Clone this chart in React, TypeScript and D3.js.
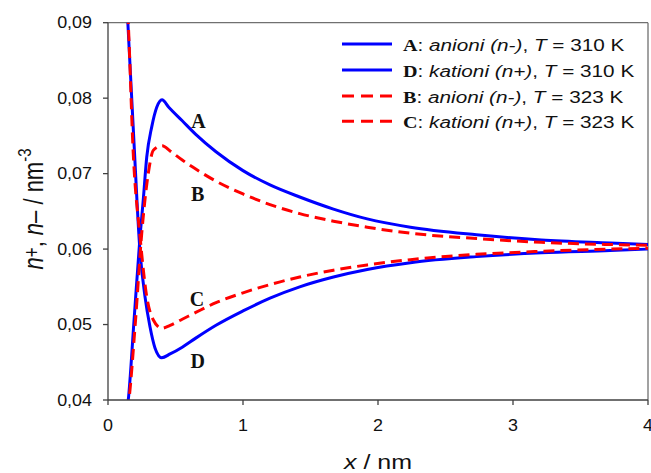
import React from "react";
import * as d3 from "d3";

// ---- data ----
const xTicks = [0, 1, 2, 3, 4];
const yTicks = [0.04, 0.05, 0.06, 0.07, 0.08, 0.09];

// A: anioni (n-), T = 310 K
const xA = [0.140, 0.150, 0.193, 0.237, 0.261, 0.287, 0.324, 0.361, 0.400, 0.450, 0.550, 0.650, 0.800, 1.000, 1.200, 1.420, 1.670, 1.920, 2.240, 2.730, 3.210, 3.720, 4.000];
const yA = [0.0386, 0.0400, 0.0506, 0.0616, 0.0665, 0.0722, 0.0762, 0.0788, 0.0798, 0.0788, 0.0770, 0.0752, 0.0729, 0.0704, 0.0685, 0.0669, 0.0653, 0.0640, 0.0629, 0.0619, 0.0612, 0.0608, 0.0606];

// D: kationi (n+), T = 310 K
const xD = [0.137, 0.147, 0.190, 0.237, 0.274, 0.311, 0.348, 0.398, 0.460, 0.550, 0.650, 0.800, 1.000, 1.200, 1.420, 1.670, 1.920, 2.240, 2.730, 3.210, 3.720, 4.000];
const yD = [0.0935, 0.0900, 0.0750, 0.0597, 0.0537, 0.0497, 0.0469, 0.0456, 0.0461, 0.0470, 0.0482, 0.0499, 0.0518, 0.0535, 0.0550, 0.0563, 0.0573, 0.0582, 0.0590, 0.0595, 0.0598, 0.0600];

// B: anioni (n-), T = 323 K
const xB = [0.145, 0.155, 0.204, 0.250, 0.299, 0.336, 0.402, 0.460, 0.550, 0.650, 0.800, 1.000, 1.200, 1.420, 1.670, 1.920, 2.240, 2.730, 3.210, 3.720, 4.000];
const yB = [0.0386, 0.0400, 0.0506, 0.0621, 0.0701, 0.0731, 0.0737, 0.0730, 0.0718, 0.0706, 0.0690, 0.0673, 0.0659, 0.0647, 0.0637, 0.0629, 0.0621, 0.0614, 0.0609, 0.0606, 0.0605];

// C: kationi (n+), T = 323 K
const xC = [0.140, 0.150, 0.187, 0.237, 0.287, 0.336, 0.398, 0.460, 0.550, 0.650, 0.800, 1.000, 1.200, 1.420, 1.670, 1.920, 2.240, 2.730, 3.210, 3.720, 4.000];
const yC = [0.0935, 0.0900, 0.0727, 0.0617, 0.0537, 0.0506, 0.0495, 0.0499, 0.0507, 0.0516, 0.0529, 0.0542, 0.0553, 0.0563, 0.0572, 0.0579, 0.0586, 0.0593, 0.0597, 0.0600, 0.0601];

const legendLetters = ["A", "D", "B", "C"];
const legendIons = ["anioni (n-)", "kationi (n+)", "anioni (n-)", "kationi (n+)"];
const legendTemps = ["310 K", "310 K", "323 K", "323 K"];

// curve label anchors in data units (position of letter)
const labelLetters = ["A", "B", "C", "D"];
const labelX = [0.67, 0.665, 0.66, 0.665];
const labelY = [0.0761, 0.0664, 0.0524, 0.0442];

const BLUE = "#0000ff";
const RED = "#ff0000";

export default function App() {
  const W = 651, H = 473;
  const left = 108, right = 648, top = 22.7, bottom = 400;
  const x = d3.scaleLinear().domain([0, 4]).range([left, right]);
  const y = d3.scaleLinear().domain([0.04, 0.09]).range([bottom, top]);
  const line = d3
    .line<[number, number]>()
    .x((d) => x(d[0]))
    .y((d) => y(d[1]))
    .curve(d3.curveMonotoneX);

  const zip = (xs: number[], ys: number[]) => xs.map((v, i) => [v, ys[i]] as [number, number]);
  const series = [
    { d: zip(xA, yA), color: BLUE, dash: undefined },
    { d: zip(xD, yD), color: BLUE, dash: undefined },
    { d: zip(xB, yB), color: RED, dash: "11,6" },
    { d: zip(xC, yC), color: RED, dash: "11,6" },
  ];
  const fmtY = (v: number) => d3.format(".2f")(v).replace(".", ",");
  const sans = "Liberation Sans, Arial, sans-serif";
  const serif = "Liberation Serif, Times New Roman, serif";
  const axisColor = "#404040";

  const legendRowY = [44, 70, 96, 121.2];

  return (
    <svg
      width={W}
      height={H}
      viewBox={`0 0 ${W} ${H}`}
      style={{ position: "absolute", left: 0, top: 0, background: "#fff" }}
    >
      <defs>
        <clipPath id="plotclip">
          <rect x={left} y={top} width={right - left} height={bottom - top} />
        </clipPath>
      </defs>
      <rect x={0} y={0} width={W} height={H} fill="#fff" />

      {/* frame */}
      <line x1={left} x2={right} y1={top} y2={top} stroke="#707070" strokeWidth={1.3} />
      <line x1={right} x2={right} y1={top} y2={bottom} stroke="#707070" strokeWidth={1.3} />

      {/* curves */}
      <g clipPath="url(#plotclip)">
        {series.map((s, i) => (
          <path
            key={i}
            d={line(s.d) || ""}
            fill="none"
            stroke={s.color}
            strokeWidth={3}
            strokeDasharray={s.dash}
            strokeLinejoin="round"
          />
        ))}
      </g>

      {/* axes */}
      <line x1={left} x2={left} y1={top} y2={bottom} stroke={axisColor} strokeWidth={1.3} />
      <line x1={left} x2={right} y1={bottom} y2={bottom} stroke={axisColor} strokeWidth={1.3} />
      {yTicks.map((t) => (
        <g key={t}>
          <line x1={left - 5} x2={left} y1={y(t)} y2={y(t)} stroke={axisColor} strokeWidth={1.3} />
          <text
            transform={`translate(${left - 16},${y(t) + 5.5}) scale(1.12,1)`}
            textAnchor="end"
            fontFamily={sans}
            fontSize={16}
            fill="#111"
          >
            {fmtY(t)}
          </text>
        </g>
      ))}
      {xTicks.map((t) => (
        <g key={t}>
          <line x1={x(t)} x2={x(t)} y1={bottom} y2={bottom + 5} stroke={axisColor} strokeWidth={1.3} />
          <text
            transform={`translate(${x(t)},${bottom + 31}) scale(1.12,1)`}
            textAnchor="middle"
            fontFamily={sans}
            fontSize={16}
            fill="#111"
          >
            {String(t)}
          </text>
        </g>
      ))}

      {/* axis titles */}
      <text
        transform={`translate(${(left + right) / 2},469) scale(1.25,1)`}
        textAnchor="middle"
        fontFamily={sans}
        fontSize={20}
        fill="#111"
        style={{ whiteSpace: "pre" }}
      >
        <tspan fontStyle="italic">x</tspan>
        <tspan> / nm</tspan>
      </text>
      <text
        transform={`translate(43,209) scale(1.25,1) rotate(-90)`}
        textAnchor="middle"
        fontFamily={sans}
        fontSize={22}
        fill="#111"
        style={{ whiteSpace: "pre" }}
      >
        <tspan fontStyle="italic">n</tspan>
        <tspan fontSize={17} dy={-3}>+</tspan>
        <tspan dy={3}>, </tspan>
        <tspan fontStyle="italic">n</tspan>
        <tspan>– / nm</tspan>
        <tspan fontSize={15} dy={-10}>-3</tspan>
      </text>

      {/* curve labels */}
      {labelLetters.map((l, i) => (
        <text
          key={l}
          x={x(labelX[i])}
          y={y(labelY[i])}
          textAnchor="middle"
          fontFamily={serif}
          fontWeight="bold"
          fontSize={20}
          fill="#111"
        >
          {l}
        </text>
      ))}

      {/* legend */}
      {legendLetters.map((l, i) => {
        const ly = legendRowY[i];
        const solid = i < 2;
        return (
          <g key={i}>
            <line
              x1={342}
              x2={392}
              y1={ly}
              y2={ly}
              stroke={solid ? BLUE : RED}
              strokeWidth={3}
              strokeDasharray={solid ? undefined : "12,7"}
            />
            <text
              transform={`translate(403,${ly + 6.5}) scale(1.22,1)`}
              fontFamily={sans}
              fontSize={17}
              fill="#111"
              style={{ whiteSpace: "pre" }}
            >
              <tspan fontFamily={serif} fontWeight="bold" fontSize={16.5}>{l}</tspan>
              <tspan>: </tspan>
              <tspan fontStyle="italic">{legendIons[i]}</tspan>
              <tspan>, </tspan>
              <tspan fontStyle="italic">T</tspan>
              <tspan> = {legendTemps[i]}</tspan>
            </text>
          </g>
        );
      })}
    </svg>
  );
}
